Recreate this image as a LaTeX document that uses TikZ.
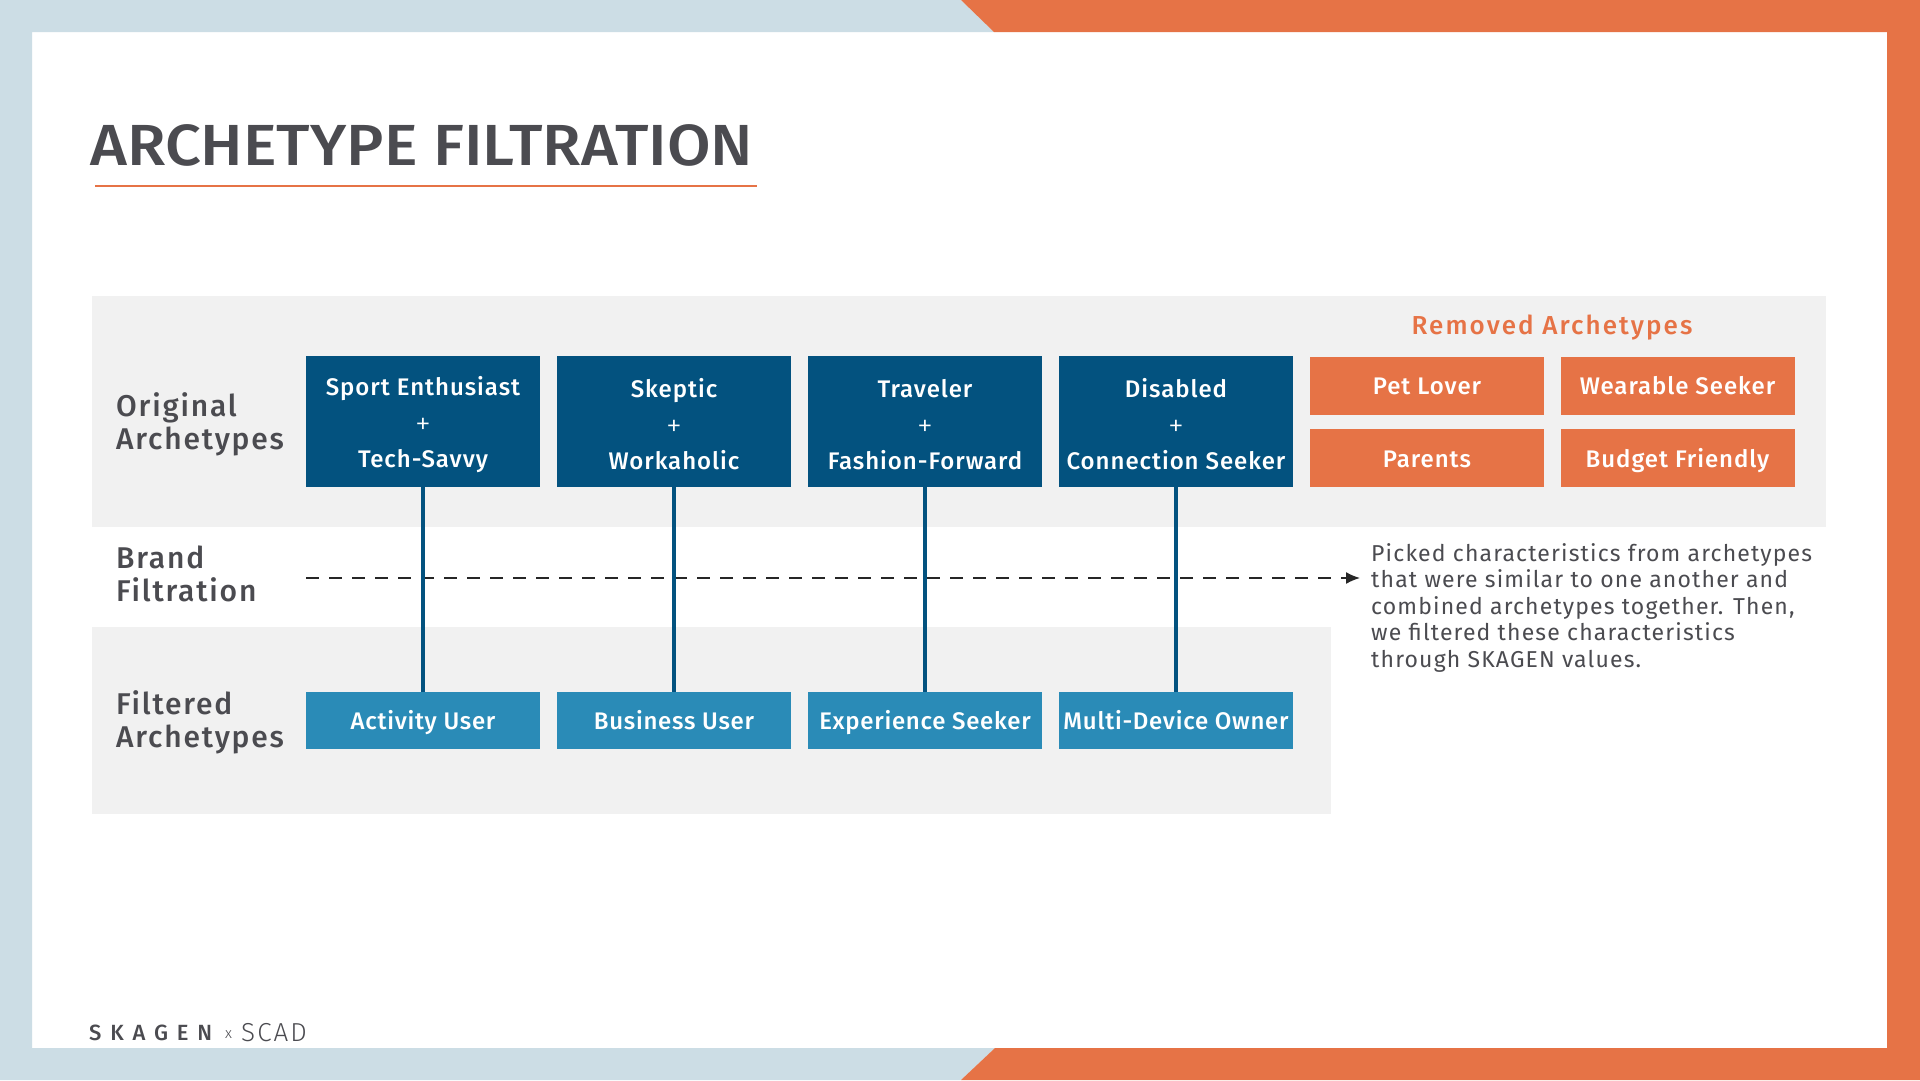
\documentclass[tikz,border=0pt]{standalone}
\usepackage{fontspec}
\setmainfont{Fira Sans}
\newfontfamily\medfont{Fira Sans Medium}
\newfontfamily\lightfont{Fira Sans Light}
\usetikzlibrary{arrows.meta}
\definecolor{dblue}{HTML}{03527F}
\definecolor{lblue}{HTML}{2A8BB7}
\definecolor{orng}{HTML}{E67346}
\definecolor{panel}{HTML}{F1F1F1}
\definecolor{frameblue}{HTML}{CCDDE5}
\definecolor{txtgray}{HTML}{4B4B50}
\newcommand{\plussign}{{\lightfont\fontsize{32}{37}\selectfont\raisebox{-3pt}{+}}}
\begin{document}
\begin{tikzpicture}[x=1pt,y=-1pt,
  origbox/.style={fill=dblue,minimum width=234pt,minimum height=131pt,inner sep=0pt},
  origtext/.style={align=center,text=white,inner sep=0pt,font=\medfont\fontsize{24}{36}\selectfont\addfontfeatures{LetterSpace=4}},
  filtbox/.style={fill=lblue,text=white,minimum width=234pt,minimum height=57pt,inner sep=0pt,text height=22pt,text depth=4pt,align=center,font=\medfont\fontsize{24}{26}\selectfont\addfontfeatures{LetterSpace=3}},
  rembox/.style={fill=orng,text=white,minimum width=234pt,minimum height=58pt,inner sep=0pt,text height=22pt,text depth=4pt,align=center,font=\medfont\fontsize{24}{26}\selectfont\addfontfeatures{LetterSpace=4}},
  rowlabel/.style={anchor=base west,inner sep=0pt,align=left,text=txtgray,font=\medfont\fontsize{30}{33}\selectfont\addfontfeatures{LetterSpace=6}},
  link/.style={draw=dblue,line width=4pt},
  dashline/.style={draw=black!85,line width=1.6pt,dash pattern=on 13pt off 10pt,-{Latex[length=14pt,width=12pt]}}
]
\useasboundingbox (0,0) rectangle (1920,1080);
% frame
\fill[white] (0,0) rectangle (1920,1080);
\fill[frameblue] (0,0) -- (961,0) -- (994,32) -- (32,32) -- (32,1048) -- (995,1048) -- (961,1080) -- (0,1080) -- cycle;
\fill[orng] (961,0) -- (1920,0) -- (1920,1080) -- (961,1080) -- (995,1048) -- (1887,1048) -- (1887,32) -- (994,32) -- cycle;
% title
\node[anchor=base west,inner sep=0pt,text=txtgray,font=\medfont\fontsize{58}{60}\selectfont] (title) at (90,165) {\scalebox{1.09}[1]{ARCHETYPE FILTRATION}};
\draw[orng,line width=2.5pt] (95,186) -- (757,186);
% panels
\fill[panel] (92,296) rectangle (1826,527);
\fill[panel] (92,627) rectangle (1331,814);
% row labels (base = last line)
\node[rowlabel] (lorig) at (116,449) {Original\\Archetypes};
\node[rowlabel] (lbrand) at (116,601) {Brand\\Filtration};
\node[rowlabel] (lfilt) at (116,747) {Filtered\\Archetypes};
% original boxes
\node[origbox] (o1) at (423,421.5) {};
\node[origbox] (o2) at (674,421.5) {};
\node[origbox] (o3) at (925,421.5) {};
\node[origbox] (o4) at (1176,421.5) {};
\node[origtext] (t1) at ([yshift=-3pt]o1.center) {Sport Enthusiast\\\plussign\\Tech-Savvy};
\node[origtext] (t2) at ([yshift=-3pt]o2.center) {Skeptic\\\plussign\\Workaholic};
\node[origtext] (t3) at ([yshift=-3pt]o3.center) {Traveler\\\plussign\\Fashion-Forward};
\node[origtext] (t4) at ([yshift=-3pt]o4.center) {Disabled\\\plussign\\Connection Seeker};
% removed
\node[text=orng,font=\medfont\fontsize{26}{28}\selectfont\addfontfeatures{LetterSpace=8},inner sep=0pt] (remt) at (1552,328) {Removed Archetypes};
\node[rembox] (r1) at (1427,385.5) {Pet Lover};
\node[rembox] (r2) at (1677.5,385.5) {Wearable Seeker};
\node[rembox] (r3) at (1427,458) {Parents};
\node[rembox] (r4) at (1677.5,458) {Budget Friendly};
% filtered boxes
\node[filtbox] (f1) at (423,720.5) {Activity User};
\node[filtbox] (f2) at (674,720.5) {Business User};
\node[filtbox] (f3) at (925,720.5) {Experience Seeker};
\node[filtbox] (f4) at (1176,720.5) {Multi-Device Owner};
% dashed line
\coordinate (dstart) at (306,578);
\coordinate (dend) at (1360,578);
\draw[dashline] (dstart) -- (dend);
% links
\draw[link] (o1.south) -- (f1.north);
\draw[link] (o2.south) -- (f2.north);
\draw[link] (o3.south) -- (f3.north);
\draw[link] (o4.south) -- (f4.north);
% paragraph (base = last line)
\node[anchor=base west,inner sep=0pt,align=left,text=txtgray,font=\fontsize{23}{26.5}\selectfont\addfontfeatures{LetterSpace=5}] (para) at (1371,667) {Picked characteristics from archetypes\\that were similar to one another and\\combined archetypes together. Then,\\we filtered these characteristics\\through SKAGEN values.};
% footer
\node[anchor=base west,inner sep=0pt,text=txtgray,font=\medfont\fontsize{22}{24}\selectfont\addfontfeatures{LetterSpace=40}] (sk) at (89,1040) {SKAGEN};
\node[anchor=base west,inner sep=0pt,text=txtgray,font=\lightfont\fontsize{15}{16}\selectfont] (xx) at (225,1038) {x};
\node[anchor=base west,inner sep=0pt,text=txtgray,font=\lightfont\fontsize{26}{28}\selectfont\addfontfeatures{LetterSpace=8}] (scad) at (241,1041) {SCAD};
\end{tikzpicture}
\end{document}
